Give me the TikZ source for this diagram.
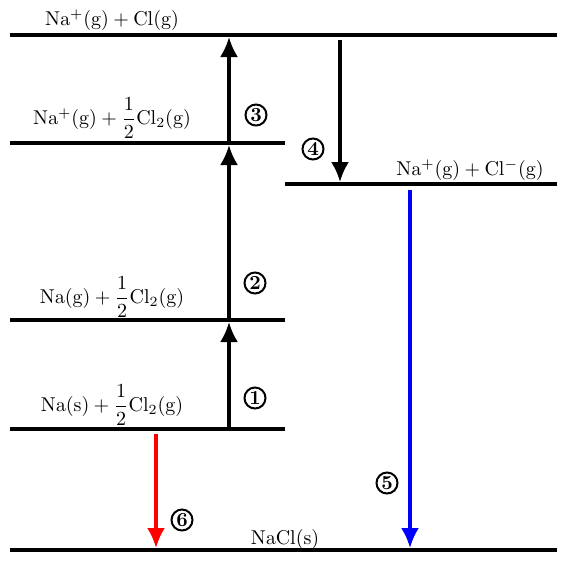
\documentclass[tikz,border=0pt]{standalone}
\usepackage{amsmath}
\usetikzlibrary{positioning,arrows.meta}

\begin{document}
\begin{tikzpicture}[x=0.5pt, y=-0.5pt, >={Latex[length=10pt,width=9pt]},
  level/.style={line width=2pt},
  steparrow/.style={->, line width=1.6pt},
  numlabel/.style={draw, circle, line width=1pt, minimum size=10.5pt,
                   inner sep=0pt, font=\bfseries}]
  \useasboundingbox (0,0) rectangle (567,564);
  % energy levels
  \coordinate (ionatomL) at (10,35);   \coordinate (ionatomR) at (557,35);
  \coordinate (ionmolL)  at (10,143);  \coordinate (ionmolR)  at (285,143);
  \coordinate (ionsL)    at (285,184); \coordinate (ionsR)    at (557,184);
  \coordinate (gasL)     at (10,320);  \coordinate (gasR)     at (285,320);
  \coordinate (solidL)   at (10,429);  \coordinate (solidR)   at (285,429);
  \coordinate (saltL)    at (10,550);  \coordinate (saltR)    at (557,550);
  \draw[level] (ionatomL) -- (ionatomR);
  \draw[level] (ionmolL) -- (ionmolR);
  \draw[level] (ionsL) -- (ionsR);
  \draw[level] (gasL) -- (gasR);
  \draw[level] (solidL) -- (solidR);
  \draw[level] (saltL) -- (saltR);
  % level labels
  \node (ionatom) at (112,20) {$\mathrm{Na^{+}(g)} + \mathrm{Cl(g)}$};
  \node (ionmol) at (112,118) {$\mathrm{Na^{+}(g)} + \dfrac{1}{2}\mathrm{Cl_2(g)}$};
  \node (ions) at (470,170) {$\mathrm{Na^{+}(g)} + \mathrm{Cl^{-}(g)}$};
  \node (gas) at (112,297) {$\mathrm{Na(g)} + \dfrac{1}{2}\mathrm{Cl_2(g)}$};
  \node (solid) at (112,405) {$\mathrm{Na(s)} + \dfrac{1}{2}\mathrm{Cl_2(g)}$};
  \node (salt) at (285,539) {$\mathrm{NaCl(s)}$};
  % arrow ends
  \coordinate (a1s) at (229,427); \coordinate (a1e) at (229,322);
  \coordinate (a2s) at (229,318); \coordinate (a2e) at (229,145);
  \coordinate (a3s) at (229,141); \coordinate (a3e) at (229,37);
  \coordinate (a4s) at (340,40);  \coordinate (a4e) at (340,182);
  \coordinate (a5s) at (410,190); \coordinate (a5e) at (410,548);
  \coordinate (a6s) at (156,434); \coordinate (a6e) at (156,548);
  \draw[steparrow] (a1s) -- (a1e);
  \draw[steparrow] (a2s) -- (a2e);
  \draw[steparrow] (a3s) -- (a3e);
  \draw[steparrow] (a4s) -- (a4e);
  \draw[steparrow, blue] (a5s) -- (a5e);
  \draw[steparrow, red] (a6s) -- (a6e);
  % step numbers
  \node[numlabel] (n1) at (255,398) {1};
  \node[numlabel] (n2) at (255,283) {2};
  \node[numlabel] (n3) at (256,115) {3};
  \node[numlabel] (n4) at (313,149) {4};
  \node[numlabel] (n5) at (387,483) {5};
  \node[numlabel] (n6) at (182,520) {6};
\end{tikzpicture}
\end{document}
